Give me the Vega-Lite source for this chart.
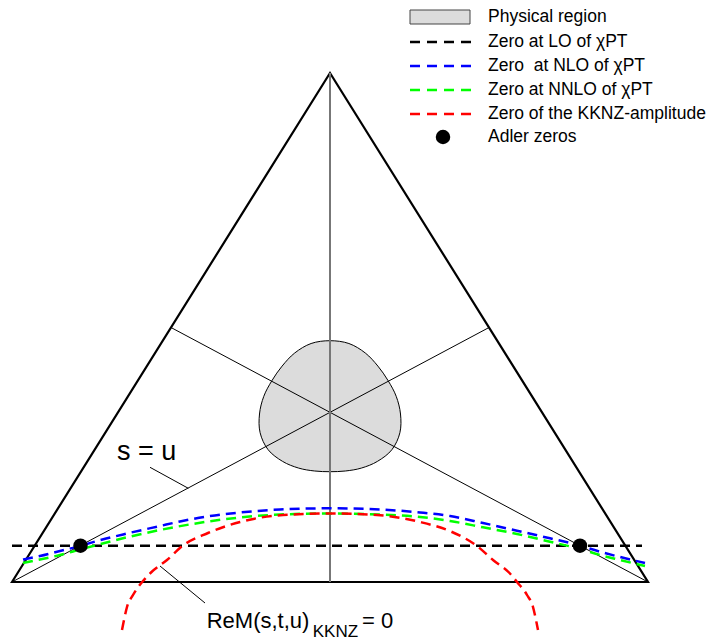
{
  "$schema": "https://vega.github.io/schema/vega-lite/v6.json",
  "width": 715,
  "height": 640,
  "autosize": {"type": "fit", "contains": "padding"},
  "padding": 0,
  "background": "white",
  "config": {"view": {"stroke": null}, "font": "Liberation Sans"},
  "datasets": {
    "tri": [
      {"i": 0, "x": -318, "y": 0},
      {"i": 1, "x": 0, "y": 509},
      {"i": 2, "x": 318, "y": 0}
    ],
    "medians": [
      {"x": -318, "y": 0, "x2": 159, "y2": 254.5},
      {"x": 318, "y": 0, "x2": -159, "y2": 254.5},
      {"x": -180, "y": 114.7, "x2": -141.7, "y2": 93.7},
      {"x": -170, "y": 16, "x2": -125, "y2": -21}
    ],
    "axisline": [
      {"x": 0, "y": 0, "x2": 0, "y2": 509}
    ],
    "region": [
      {"i": 0, "x": 0, "y": 241.3},
      {"i": 1, "x": 18.9, "y": 238.5},
      {"i": 2, "x": 35.3, "y": 229},
      {"i": 3, "x": 47.9, "y": 215.9},
      {"i": 4, "x": 58, "y": 201.5},
      {"i": 5, "x": 66.2, "y": 185.7},
      {"i": 6, "x": 70.5, "y": 168},
      {"i": 7, "x": 69.9, "y": 149.3},
      {"i": 8, "x": 61.9, "y": 132.3},
      {"i": 9, "x": 47.4, "y": 120.6},
      {"i": 10, "x": 31.3, "y": 113.9},
      {"i": 11, "x": 15.3, "y": 111},
      {"i": 12, "x": 0, "y": 110.3},
      {"i": 13, "x": -15.3, "y": 111},
      {"i": 14, "x": -31.3, "y": 113.9},
      {"i": 15, "x": -47.4, "y": 120.6},
      {"i": 16, "x": -61.9, "y": 132.3},
      {"i": 17, "x": -69.9, "y": 149.3},
      {"i": 18, "x": -70.5, "y": 168},
      {"i": 19, "x": -66.2, "y": 185.7},
      {"i": 20, "x": -58, "y": 201.5},
      {"i": 21, "x": -47.9, "y": 215.9},
      {"i": 22, "x": -35.3, "y": 229},
      {"i": 23, "x": -18.9, "y": 238.5}
    ],
    "curves": [
      {"s": "LO", "i": 0, "x": -318, "y": 36.3},
      {"s": "LO", "i": 1, "x": 312, "y": 36.3},
      {"s": "NLO", "i": 0, "x": -307, "y": 22.5},
      {"s": "NLO", "i": 1, "x": -290, "y": 26},
      {"s": "NLO", "i": 2, "x": -270, "y": 31},
      {"s": "NLO", "i": 3, "x": -250, "y": 36},
      {"s": "NLO", "i": 4, "x": -233, "y": 41},
      {"s": "NLO", "i": 5, "x": -203, "y": 48.5},
      {"s": "NLO", "i": 6, "x": -170, "y": 56},
      {"s": "NLO", "i": 7, "x": -150, "y": 60.5},
      {"s": "NLO", "i": 8, "x": -123, "y": 65.5},
      {"s": "NLO", "i": 9, "x": -90, "y": 69.5},
      {"s": "NLO", "i": 10, "x": -50, "y": 72.5},
      {"s": "NLO", "i": 11, "x": 0, "y": 73.7},
      {"s": "NLO", "i": 12, "x": 50, "y": 72.5},
      {"s": "NLO", "i": 13, "x": 90, "y": 69.5},
      {"s": "NLO", "i": 14, "x": 120, "y": 66},
      {"s": "NLO", "i": 15, "x": 153, "y": 59},
      {"s": "NLO", "i": 16, "x": 187, "y": 51.3},
      {"s": "NLO", "i": 17, "x": 220, "y": 43.7},
      {"s": "NLO", "i": 18, "x": 250, "y": 36.5},
      {"s": "NLO", "i": 19, "x": 270, "y": 30.3},
      {"s": "NLO", "i": 20, "x": 290, "y": 25},
      {"s": "NLO", "i": 21, "x": 315, "y": 19},
      {"s": "NNLO", "i": 0, "x": -307, "y": 19},
      {"s": "NNLO", "i": 1, "x": -290, "y": 22.5},
      {"s": "NNLO", "i": 2, "x": -270, "y": 27},
      {"s": "NNLO", "i": 3, "x": -250, "y": 32.5},
      {"s": "NNLO", "i": 4, "x": -233, "y": 37},
      {"s": "NNLO", "i": 5, "x": -203, "y": 44.7},
      {"s": "NNLO", "i": 6, "x": -170, "y": 52},
      {"s": "NNLO", "i": 7, "x": -123, "y": 60.3},
      {"s": "NNLO", "i": 8, "x": -90, "y": 64.5},
      {"s": "NNLO", "i": 9, "x": -50, "y": 67.5},
      {"s": "NNLO", "i": 10, "x": 0, "y": 68.5},
      {"s": "NNLO", "i": 11, "x": 50, "y": 67.5},
      {"s": "NNLO", "i": 12, "x": 90, "y": 65},
      {"s": "NNLO", "i": 13, "x": 120, "y": 61},
      {"s": "NNLO", "i": 14, "x": 153, "y": 54.7},
      {"s": "NNLO", "i": 15, "x": 187, "y": 48},
      {"s": "NNLO", "i": 16, "x": 220, "y": 40.3},
      {"s": "NNLO", "i": 17, "x": 250, "y": 33},
      {"s": "NNLO", "i": 18, "x": 270, "y": 27},
      {"s": "NNLO", "i": 19, "x": 290, "y": 22},
      {"s": "NNLO", "i": 20, "x": 315, "y": 16},
      {"s": "KKNZ", "i": 0, "x": -208, "y": -48},
      {"s": "KKNZ", "i": 1, "x": -206, "y": -38},
      {"s": "KKNZ", "i": 2, "x": -203, "y": -25},
      {"s": "KKNZ", "i": 3, "x": -197, "y": -13},
      {"s": "KKNZ", "i": 4, "x": -187, "y": 1},
      {"s": "KKNZ", "i": 5, "x": -179, "y": 9.5},
      {"s": "KKNZ", "i": 6, "x": -163, "y": 22},
      {"s": "KKNZ", "i": 7, "x": -147, "y": 36.5},
      {"s": "KKNZ", "i": 8, "x": -122, "y": 49},
      {"s": "KKNZ", "i": 9, "x": -90, "y": 60},
      {"s": "KKNZ", "i": 10, "x": -47, "y": 67},
      {"s": "KKNZ", "i": 11, "x": 0, "y": 68.5},
      {"s": "KKNZ", "i": 12, "x": 47, "y": 67},
      {"s": "KKNZ", "i": 13, "x": 90, "y": 60},
      {"s": "KKNZ", "i": 14, "x": 122, "y": 50},
      {"s": "KKNZ", "i": 15, "x": 147, "y": 36},
      {"s": "KKNZ", "i": 16, "x": 163, "y": 22},
      {"s": "KKNZ", "i": 17, "x": 179, "y": 9.5},
      {"s": "KKNZ", "i": 18, "x": 187, "y": 0},
      {"s": "KKNZ", "i": 19, "x": 197, "y": -13},
      {"s": "KKNZ", "i": 20, "x": 203, "y": -25},
      {"s": "KKNZ", "i": 21, "x": 206, "y": -38},
      {"s": "KKNZ", "i": 22, "x": 208, "y": -48}
    ],
    "adler": [
      {"x": -249.5, "y": 36.3},
      {"x": 250, "y": 36.3},
      {"x": 113, "y": 445}
    ],
    "legendRect": [
      {"x": 80, "x2": 140, "y": 558, "y2": 572}
    ],
    "legendLines": [
      {"s": "LO", "x": 80, "x2": 142, "y": 540},
      {"s": "NLO", "x": 80, "x2": 142, "y": 516},
      {"s": "NNLO", "x": 80, "x2": 142, "y": 492},
      {"s": "KKNZ", "x": 80, "x2": 142, "y": 468}
    ],
    "legendText": [
      {"x": 158, "y": 565, "t": "Physical region"},
      {"x": 158, "y": 540, "t": "Zero at LO of χPT"},
      {"x": 158, "y": 516, "t": "Zero\u00a0 at NLO of χPT"},
      {"x": 158, "y": 492, "t": "Zero at NNLO of χPT"},
      {"x": 158, "y": 468, "t": "Zero of the KKNZ-amplitude"},
      {"x": 158, "y": 445, "t": "Adler zeros"}
    ],
    "bigText": [
      {"x": -213, "y": 122, "t": "s = u"}
    ],
    "remText": [
      {"x": -123.3, "y": -46, "t": "ReM(s,t,u)"},
      {"x": 32, "y": -46, "t": "= 0"}
    ],
    "subText": [
      {"x": -17.3, "y": -54.7, "t": "KKNZ"}
    ]
  },
  "encoding": {
    "x": {"field": "x", "type": "quantitative", "scale": {"domain": [-330, 385], "nice": false, "zero": false}, "axis": null},
    "y": {"field": "y", "type": "quantitative", "scale": {"domain": [-58, 582], "nice": false, "zero": false}, "axis": null}
  },
  "layer": [
    {
      "data": {"name": "region"},
      "mark": {"type": "line", "interpolate": "cardinal-closed", "fill": "#dcdcdc", "stroke": "black", "strokeWidth": 1},
      "encoding": {"order": {"field": "i", "type": "quantitative"}}
    },
    {
      "data": {"name": "tri"},
      "mark": {"type": "line", "interpolate": "linear-closed", "stroke": "black", "strokeWidth": 2.2, "strokeJoin": "miter"},
      "encoding": {"order": {"field": "i", "type": "quantitative"}}
    },
    {
      "data": {"name": "medians"},
      "mark": {"type": "rule", "stroke": "black", "strokeWidth": 1},
      "encoding": {"x2": {"field": "x2"}, "y2": {"field": "y2"}}
    },
    {
      "data": {"name": "axisline"},
      "mark": {"type": "rule", "stroke": "#777777", "strokeWidth": 2},
      "encoding": {"x2": {"field": "x2"}, "y2": {"field": "y2"}}
    },
    {
      "data": {"name": "curves"},
      "mark": {"type": "line", "interpolate": "monotone", "strokeDash": [10, 6], "strokeWidth": 2.5},
      "encoding": {
        "color": {"field": "s", "type": "nominal", "scale": {"domain": ["LO", "NLO", "NNLO", "KKNZ"], "range": ["#000000", "#0000ff", "#00ff00", "#ff0000"]}, "legend": null},
        "order": {"field": "i", "type": "quantitative"}
      }
    },
    {
      "data": {"name": "legendRect"},
      "mark": {"type": "rect", "fill": "#dcdcdc", "stroke": "#444444", "strokeWidth": 1},
      "encoding": {"x2": {"field": "x2"}, "y2": {"field": "y2"}}
    },
    {
      "data": {"name": "legendLines"},
      "mark": {"type": "rule", "strokeDash": [10, 7], "strokeWidth": 2.5},
      "encoding": {
        "x2": {"field": "x2"},
        "color": {"field": "s", "type": "nominal", "scale": {"domain": ["LO", "NLO", "NNLO", "KKNZ"], "range": ["#000000", "#0000ff", "#00ff00", "#ff0000"]}, "legend": null}
      }
    },
    {
      "data": {"name": "adler"},
      "mark": {"type": "point", "shape": "circle", "filled": true, "fill": "black", "opacity": 1, "size": 210}
    },
    {
      "data": {"name": "legendText"},
      "mark": {"type": "text", "align": "left", "baseline": "middle", "fontSize": 17.5, "font": "Liberation Sans", "fill": "black"},
      "encoding": {"text": {"field": "t"}}
    },
    {
      "data": {"name": "bigText"},
      "mark": {"type": "text", "align": "left", "baseline": "alphabetic", "fontSize": 27, "font": "Liberation Sans", "fill": "black"},
      "encoding": {"text": {"field": "t"}}
    },
    {
      "data": {"name": "remText"},
      "mark": {"type": "text", "align": "left", "baseline": "alphabetic", "fontSize": 22, "font": "Liberation Sans", "fill": "black"},
      "encoding": {"text": {"field": "t"}}
    },
    {
      "data": {"name": "subText"},
      "mark": {"type": "text", "align": "left", "baseline": "alphabetic", "fontSize": 17, "font": "Liberation Sans", "fill": "black"},
      "encoding": {"text": {"field": "t"}}
    }
  ]
}
